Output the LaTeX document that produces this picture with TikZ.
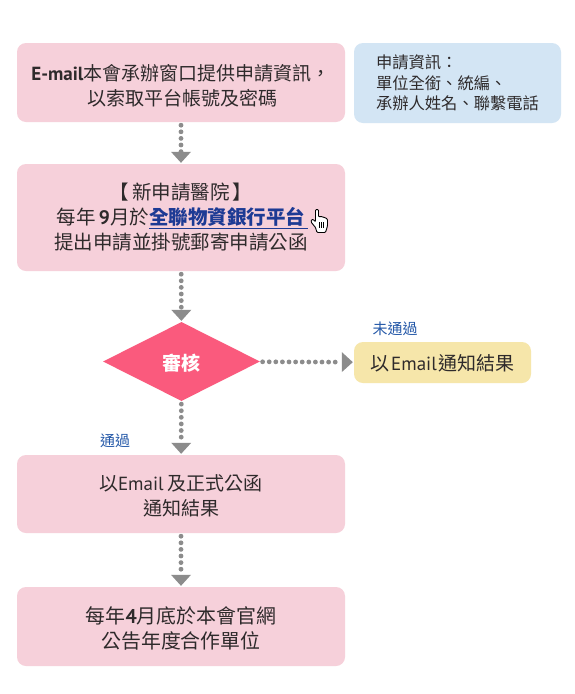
\documentclass[tikz,border=0pt]{standalone}
\usepackage{fontspec}
\setmainfont{Noto Sans CJK TC}
\newfontfamily\latfont{PT Sans}
\newcommand{\lat}[1]{{\latfont #1}}
\usetikzlibrary{shapes.geometric,arrows.meta}
\definecolor{pinkbox}{HTML}{F6D0DA}
\definecolor{bluebox}{HTML}{D3E5F4}
\definecolor{yellowbox}{HTML}{F6E6AA}
\definecolor{diam}{HTML}{FA5A7D}
\definecolor{conn}{HTML}{8C8C8C}
\definecolor{ink}{HTML}{2E2A2B}
\definecolor{labelblue}{HTML}{2458A8}
\definecolor{linkblue}{HTML}{1D3A94}
\tikzset{
  basebox/.style={rounded corners=9pt,inner sep=0pt,align=center,text=ink,font=\fontsize{19}{25}\selectfont},
  pinkstep/.style={basebox,fill=pinkbox,minimum width=328pt},
  conn/.style={draw=conn,line width=4.8pt,line cap=round,dash pattern=on 0pt off 6.6pt,
    -{Triangle[width=20pt,length=11pt,fill=conn,line width=0pt]},shorten >=1pt,shorten <=3pt},
  tag/.style={text=labelblue,inner sep=0pt,font=\fontsize{15}{16}\selectfont}
}
\begin{document}
\begin{tikzpicture}[x=1pt,y=-1pt]
\useasboundingbox (0,0) rectangle (575,694);
\fill[white] (0,0) rectangle (575,694);
\node[pinkstep,minimum height=79pt] (a) at (181,82.5) {\rule{0pt}{23pt}\textbf{\lat{E-mail}}本會承辦窗口提供申請資訊，\\\hspace*{3pt}以索取平台帳號及密碼};
\node[basebox,fill=bluebox,minimum width=207pt,minimum height=80pt,font=\fontsize{16.3}{20.5}\selectfont,align=left,text width=163pt] (info) at (457.5,83) {申請資訊：\\單位全銜、統編、\\承辦人姓名、聯繫電話};
\node[pinkstep,minimum height=107pt,font=\fontsize{19.5}{25}\selectfont] (b) at (181,217.5) {【\,新申請醫院\,】\\\hspace*{3pt}每年\,\textbf{\lat{9}}月於\textcolor{linkblue}{\underline{\textbf{全聯物資銀行平台\,}}}\\提出申請並掛號郵寄申請公函};
\node[diamond,fill=diam,inner sep=0pt,minimum width=157pt,minimum height=79pt,aspect=2,text=white,font=\bfseries\fontsize{19}{22}\selectfont] (c) at (181.5,361.5) {\rule{0pt}{20pt}審\kern1pt 核};
\node[basebox,fill=yellowbox,minimum width=177pt,minimum height=41pt] (e) at (442.5,362.5) {\rule{0pt}{18pt}以\kern2pt\lat{Email}\kern2pt 通知結果};
\node[pinkstep,minimum height=78pt] (d) at (181,494) {\rule{0pt}{18.7pt}以\lat{Email} 及正式公函\\通知結果};
\node[pinkstep,minimum height=79pt,font=\fontsize{19.9}{25.5}\selectfont] (f) at (181,626.5) {\rule{0pt}{21pt}每年\textbf{\lat{4}}月底於本會官網\\公告年度合作單位};
\node[tag] (no) at (395,329) {未通過};
\node[tag] (yes) at (115,441) {通過};
\draw[conn] (a) -- (b);
\draw[conn] (b) -- (c);
\draw[conn] (c) -- (d);
\draw[conn] (d) -- (f);
\draw[conn] (c) -- (e);
\begin{scope}[shift={(310.5,209)}]
\draw[fill=white,draw=black,line width=.9pt,line join=round,rounded corners=1pt]
 (5,.5) -- (8,.5) -- (8,8) -- (10,7.2) -- (12,8) -- (14,8.4) -- (17,10) -- (17,17) -- (15,23.5) -- (6.5,23.5) -- (5,18.5) -- (.5,13) -- (1,10.5) -- (3,10.5) -- (5,13) -- cycle;
\draw[black,line width=.6pt] (8.4,13) -- (8.4,18.5) (10.8,13) -- (10.8,18.5) (13.2,13) -- (13.2,18.5);
\end{scope}
\end{tikzpicture}
\end{document}
